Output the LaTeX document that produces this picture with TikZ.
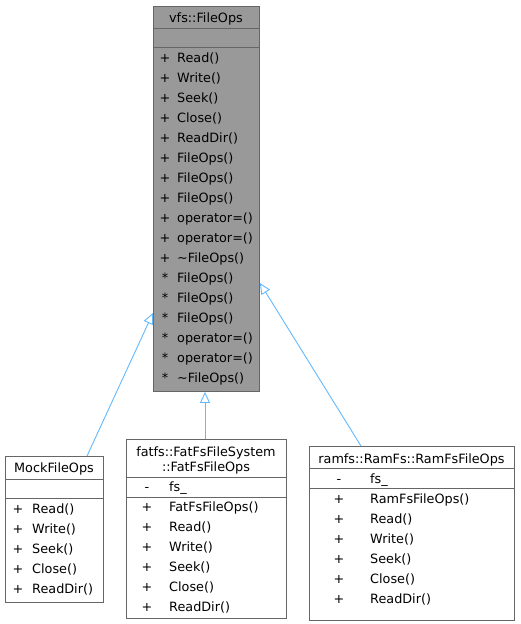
\documentclass[tikz,border=0pt]{standalone}
\usepackage{fontspec}
\setmainfont{DejaVu Sans}
\usetikzlibrary{arrows.meta}
\definecolor{edgeblue}{HTML}{63B8FF}
\definecolor{boxborder}{HTML}{666666}
\definecolor{mainfill}{HTML}{999999}
\tikzset{
  classbox/.style={draw=boxborder, line width=0.9pt, fill=white, inner sep=0pt, anchor=north west},
  mainbox/.style={classbox, fill=mainfill},
  sepline/.style={draw=boxborder, line width=0.9pt},
  txt/.style={inner sep=0pt, anchor=base west, yshift=-4.8pt},
  ctxt/.style={inner sep=0pt, anchor=base, yshift=-4.8pt},
  inh/.style={draw=edgeblue, line width=0.9pt, -{Triangle[open, length=11pt, width=10pt]}}
}
\begin{document}
\begin{tikzpicture}[x=1pt, y=-1pt, font=\fontsize{12.8}{15}\selectfont]
\useasboundingbox (0,0) rectangle (521,624);

% ---- vfs::FileOps ----
\node[mainbox, minimum width=106pt, minimum height=385pt] (main) at (153,6) {};
\draw[sepline] (main.west |- 0,28.5) -- (main.east |- 0,28.5);
\draw[sepline] (main.west |- 0,47.5) -- (main.east |- 0,47.5);
\node[ctxt] (maintitle) at (206,17.5) {vfs::FileOps};
\foreach \v/\t [count=\k from 0] in {+/Read(), +/Write(), +/Seek(), +/Close(), +/ReadDir(),
  +/FileOps(), +/FileOps(), +/FileOps(), +/operator=(), +/operator=(), +/{\textasciitilde FileOps()},
  */FileOps(), */FileOps(), */FileOps(), */operator=(), */operator=(), */{\textasciitilde FileOps()}}{
  \node[ctxt] (mainv\k) at (165,57.5+20*\k) {\v};
  \node[txt] (mainm\k) at (177,57.5+20*\k) {\t};
}

% ---- MockFileOps ----
\node[classbox, minimum width=98pt, minimum height=146pt] (mock) at (5,456) {};
\draw[sepline] (mock.west |- 0,479) -- (mock.east |- 0,479);
\draw[sepline] (mock.west |- 0,498.5) -- (mock.east |- 0,498.5);
\node[ctxt] (mocktitle) at (54,467.5) {MockFileOps};
\foreach \t [count=\k from 0] in {Read(), Write(), Seek(), Close(), ReadDir()}{
  \node[ctxt] (mockv\k) at (18,508.5+20*\k) {+};
  \node[txt] (mockm\k) at (32,508.5+20*\k) {\t};
}

% ---- fatfs::FatFsFileSystem::FatFsFileOps ----
\node[classbox, minimum width=160pt, minimum height=179pt] (fatfs) at (126,439) {};
\draw[sepline] (fatfs.west |- 0,477) -- (fatfs.east |- 0,477);
\draw[sepline] (fatfs.west |- 0,497) -- (fatfs.east |- 0,497);
\node[ctxt] (fattitle1) at (206,451.5) {fatfs::FatFsFileSystem};
\node[ctxt] (fattitle2) at (206,466.5) {::FatFsFileOps};
\node[ctxt] (fatav) at (147,487) {-};
\node[txt] (fata) at (169,487) {fs\_};
\foreach \t [count=\k from 0] in {FatFsFileOps(), Read(), Write(), Seek(), Close(), ReadDir()}{
  \node[ctxt] (fatv\k) at (147,506.5+20*\k) {+};
  \node[txt] (fatm\k) at (169,506.5+20*\k) {\t};
}

% ---- ramfs::RamFs::RamFsFileOps ----
\node[classbox, minimum width=205pt, minimum height=174pt] (ramfs) at (309,446) {};
\draw[sepline] (ramfs.west |- 0,468.5) -- (ramfs.east |- 0,468.5);
\draw[sepline] (ramfs.west |- 0,488.5) -- (ramfs.east |- 0,488.5);
\node[ctxt] (ramtitle) at (411.5,458.5) {ramfs::RamFs::RamFsFileOps};
\node[ctxt] (ramav) at (339,478.5) {-};
\node[txt] (rama) at (370,478.5) {fs\_};
\foreach \t [count=\k from 0] in {RamFsFileOps(), Read(), Write(), Seek(), Close(), ReadDir()}{
  \node[ctxt] (ramv\k) at (339,498.5+20*\k) {+};
  \node[txt] (ramm\k) at (370,498.5+20*\k) {\t};
}

% ---- inheritance connectors ----
\coordinate (mockTop) at (mock.north -| 87,0);
\coordinate (mainLeft) at (main.west |- 0,313);
\coordinate (ramTop) at (ramfs.north -| 361,0);
\coordinate (mainRight) at (main.east |- 0,283);
\coordinate (fatTop) at (fatfs.north -| 205,0);
\coordinate (mainBottom) at (main.south -| 205,0);
\draw[inh] (mockTop) -- (mainLeft);
\draw[inh] (fatTop) -- (mainBottom);
\draw[inh] (ramTop) -- (mainRight);
\end{tikzpicture}
\end{document}
